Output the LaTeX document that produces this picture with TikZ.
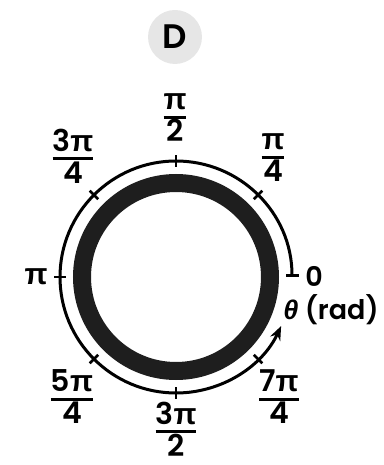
\documentclass[tikz,border=0pt]{standalone}
\usepackage{fontspec}
\setmainfont{Poppins}[BoldFont={Poppins SemiBold}]
\newfontfamily\pifont{Liberation Sans}
\usetikzlibrary{arrows.meta}
\definecolor{ringcolor}{RGB}{30,30,30}
\definecolor{badgecolor}{RGB}{230,230,230}
\newcommand\piglyph{{\pifont\bfseries π}}
\newcommand\angfrac[2]{{\setlength\arrayrulewidth{3pt}\renewcommand\arraystretch{0.85}%
  \begin{tabular}{@{}c@{}}#1\\[-2pt]\hline\rule{0pt}{23pt}#2\end{tabular}}}

\begin{document}
\begin{tikzpicture}[x=1pt, y=1pt,
  lbl/.style={font=\fontsize{30}{32}\selectfont\bfseries, inner sep=0pt},
  small/.style={font=\fontsize{27}{29}\selectfont\bfseries, inner sep=0pt},
  tickmark/.style={line width=2.5pt},
]
\useasboundingbox (-176,-188) rectangle (207,277);

% ---------- badge ----------
\node[circle, fill=badgecolor, minimum size=54pt, inner sep=0pt,
      font=\fontsize{34}{36}\selectfont\bfseries] (badge) at (-1,240) {D};

% ---------- ring ----------
\draw[ringcolor, line width=18pt] (0,0) circle[radius=94];

% ---------- angle arc ----------
\draw[line width=3pt, {Bar[width=13pt]}-{Stealth[length=14pt,width=11pt]}]
  (0:116) arc[start angle=0, end angle=335, radius=116];
\foreach \a in {45,90,...,315}
  \draw[tickmark] (\a:110) -- (\a:122);

% ---------- labels ----------
\node[lbl] (pihalf) at (-1,157) {\angfrac{\piglyph}{2}};
\node[lbl] (piquarter) at (97,117) {\angfrac{\piglyph}{4}};
\node[lbl] (threequarter) at (-103,117) {\angfrac{3\piglyph}{4}};
\node[lbl] (pifull) at (-140,0) {\piglyph};
\node[lbl] (fivequarter) at (-104,-124) {\angfrac{5\piglyph}{4}};
\node[lbl] (threehalf) at (0,-156) {\angfrac{3\piglyph}{2}};
\node[lbl] (sevenquarter) at (103,-124) {\angfrac{7\piglyph}{4}};
\node[small] (zero) at (138,1) {0};
\node[small] (unit) at (155,-33) {{\pifont\itshape θ} (rad)};

\end{tikzpicture}
\end{document}
